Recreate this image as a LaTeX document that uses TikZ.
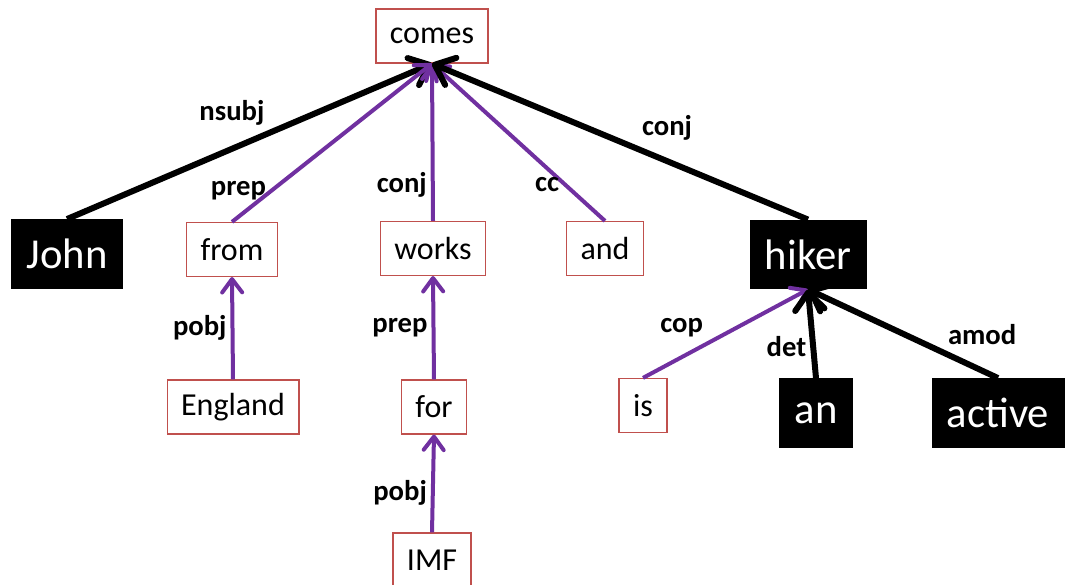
\documentclass[tikz,border=0pt]{standalone}
\usepackage{fontspec}
\setmainfont{Carlito}
\usetikzlibrary{arrows.meta}
\definecolor{deppurple}{RGB}{112,48,160}
\definecolor{boxred}{RGB}{192,80,77}
\tikzset{
  word/.style={draw=boxred, line width=0.9pt, fill=white, font=\fontsize{24}{28}\selectfont,
    inner xsep=10.5pt, inner ysep=0pt, minimum height=40.5pt},
  headword/.style={fill=black, text=white, font=\fontsize{32}{38}\selectfont,
    inner xsep=11.5pt, inner ysep=0pt, minimum height=52pt},
  dep/.style={draw=deppurple, line width=3pt, -{Straight Barb[length=10pt,width=15pt,round]}},
  strongdep/.style={draw=black, line width=4.5pt, -{Straight Barb[length=13pt,width=22pt,round]}},
  lbl/.style={font=\bfseries\fontsize{21.5}{25}\selectfont, text=black, inner sep=3pt}
}
\begin{document}
\begin{tikzpicture}[x=0.75pt,y=-0.75pt]
    \useasboundingbox (0,0) rectangle (1065,585);

    \node[word] (comes) at (432,36) {comes};
    \node[headword] (john) at (67,254) {John};
    \node[word] (from) at (232,249.5) {from};
    \node[word] (works) at (433,248.5) {works};
    \node[word] (and) at (605,248.5) {and};
    \node[headword] (hiker) at (808,254.5) {hiker};
    \node[word] (england) at (233,407) {England};
    \node[word] (for) at (434,407) {for};
    \node[word] (is) at (643,405.5) {is};
    \node[headword] (an) at (816,413) {an};
    \node[headword] (active) at (998,413) {active};
    \node[word] (imf) at (432,560) {IMF};

    \draw (john.north) edge[strongdep] node[lbl,pos=0.56,above left] {nsubj} (comes.south);
    \draw (from.north) edge[dep] node[lbl,pos=0.2,left] {prep} (comes.south);
    \draw (works.north) edge[dep] node[lbl,pos=0.23,left] {conj} (comes.south);
    \draw (and.north) edge[dep] node[lbl,pos=0.23,left] {cc} (comes.south);
    \draw (hiker.north) edge[strongdep] node[lbl,pos=0.46,above right] {conj} (comes.south);
    \draw (england.north) edge[dep] node[lbl,midway,left] {pobj} (from.south);
    \draw (for.north) edge[dep] node[lbl,midway,left] {prep} (works.south);
    \draw (imf.north) edge[dep] node[lbl,pos=0.4,left] {pobj} (for.south);
    \draw (is.north) edge[dep] node[lbl,pos=0.4,above left] {cop} (hiker.south);
    \draw (an.north) edge[strongdep] node[lbl,pos=0.35,left] {det} (hiker.south);
    \draw (active.north) edge[strongdep] node[lbl,pos=0.3,above right] {amod} (hiker.south);
\end{tikzpicture}
\end{document}
